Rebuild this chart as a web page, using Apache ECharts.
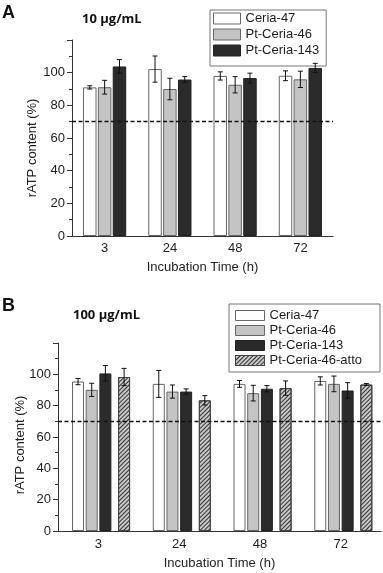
<!DOCTYPE html>
<html>
<head>
<meta charset="utf-8">
<title>rATP content</title>
<script src="https://cdn.jsdelivr.net/npm/echarts@6/dist/echarts.min.js"></script>
<style>
  html, body { margin: 0; padding: 0; background: #ffffff; }
  #chart { width: 383px; height: 573px; }
</style>
</head>
<body>
<div id="chart"></div>
<script>
// data
const times = ['3', '24', '48', '72'];
const threshold = 70;

// panel A, 10 ug/mL
const ceria47A = [91.0, 102.2, 98.0, 98.1];
const ceria47AErr = [1.0, 8.0, 2.5, 3.0];
const ptCeria46A = [91.1, 90.0, 92.6, 95.9];
const ptCeria46AErr = [4.2, 6.6, 5.0, 5.0];
const ptCeria143A = [103.8, 95.8, 96.7, 102.9];
const ptCeria143AErr = [4.2, 1.8, 3.0, 2.8];

// panel B, 100 ug/mL
const ceria47B = [95.4, 93.9, 93.9, 95.8];
const ceria47BErr = [2.0, 8.6, 2.2, 2.6];
const ptCeria46B = [90.1, 89.0, 88.0, 93.9];
const ptCeria46BErr = [4.2, 4.2, 5.0, 5.0];
const ptCeria143B = [100.6, 89.0, 90.8, 89.7];
const ptCeria143BErr = [5.0, 1.7, 2.0, 5.0];
const ptCeria46attoB = [98.3, 83.4, 91.2, 93.5];
const ptCeria46attoBErr = [5.5, 3.0, 4.6, 0.6];

const FONT = 'Liberation Sans';
const AX = '#333';
const TXT = '#1e1e1e';

const styles = {
    'Ceria-47': { color: '#ffffff', borderColor: '#666', borderWidth: 1 },
    'Pt-Ceria-46': { color: '#c4c4c4', borderColor: '#666', borderWidth: 1 },
    'Pt-Ceria-143': { color: '#2b2b2b', borderColor: '#222', borderWidth: 1 },
    'Pt-Ceria-46-atto': {
        color: '#c8c8c8', borderColor: '#444', borderWidth: 1,
        decal: { symbol: 'rect', symbolSize: 1, color: '#333', dashArrayX: [1, 0], dashArrayY: [1, 1.5], rotation: -Math.PI / 4 }
    }
};

// bar column layout (same rule ECharts uses), to place error bars
function centers(widths, gap) {
    let sum = 0;
    widths.forEach(w => { sum += w * (1 + gap); });
    sum -= widths[widths.length - 1] * gap;
    let off = -sum / 2;
    return widths.map(w => { const c = off + w / 2; off += w * (1 + gap); return c; });
}

const gapA = 0.1, widthsA = [13.5, 13.5, 13.5];
const gapB = 0.14, widthsB = [4.7, 12, 12, 12, 4.4, 12];
const cA = centers(widthsA, gapA);
const cB = centers(widthsB, gapB);

function bar(name, data, axis, width, gap) {
    return {
        name: name, type: 'bar', xAxisIndex: axis, yAxisIndex: axis,
        data: data, barWidth: width, barGap: (gap * 100) + '%',
        itemStyle: styles[name], emphasis: { disabled: true }
    };
}

function spacer(axis, width, gap) {
    return { name: '_sp' + axis + width, type: 'bar', xAxisIndex: axis, yAxisIndex: axis, data: [], barWidth: width, barGap: (gap * 100) + '%' };
}

function errors(vals, errs, axis, dx) {
    return {
        type: 'custom', xAxisIndex: axis, yAxisIndex: axis, z: 5, silent: true,
        data: vals.map((v, i) => [i, v, errs[i]]),
        renderItem: function (params, api) {
            const hi = api.coord([api.value(0), api.value(1) + api.value(2)]);
            const lo = api.coord([api.value(0), api.value(1) - api.value(2)]);
            const x = hi[0] + dx, cap = 2.5;
            const st = { stroke: '#111', lineWidth: 1 };
            return {
                type: 'group', children: [
                    { type: 'line', shape: { x1: x, y1: hi[1], x2: x, y2: lo[1] }, style: st },
                    { type: 'line', shape: { x1: x - cap, y1: hi[1], x2: x + cap, y2: hi[1] }, style: st },
                    { type: 'line', shape: { x1: x - cap, y1: lo[1], x2: x + cap, y2: lo[1] }, style: st }
                ]
            };
        }
    };
}

const dashLine = {
    silent: true, symbol: 'none', label: { show: false },
    lineStyle: { color: '#111', type: [4, 2.5], width: 1.3 },
    data: [{ yAxis: threshold }]
};

function xAxis(idx, labelMargin, nameGap) {
    return {
        type: 'category', gridIndex: idx, data: times,
        axisLine: { lineStyle: { color: AX } },
        axisTick: { length: 4, lineStyle: { color: AX } },
        axisLabel: { fontSize: 13, color: TXT, fontFamily: FONT, margin: labelMargin },
        name: 'Incubation Time (h)', nameLocation: 'middle', nameGap: nameGap, nameMoveOverlap: false,
        nameTextStyle: { fontSize: 13, color: TXT, fontFamily: FONT }
    };
}

function yAxis(idx, nameGap, shift) {
    return {
        type: 'value', gridIndex: idx, min: 0, max: 120, interval: 20,
        axisLine: { show: true, lineStyle: { color: AX } },
        axisTick: { show: true, length: 5, lineStyle: { color: AX } },
        minorTick: { show: true, splitNumber: 2, length: 3, lineStyle: { color: AX } },
        splitLine: { show: false },
        axisLabel: { fontSize: 13, color: TXT, fontFamily: FONT, margin: 7, showMaxLabel: false },
        name: 'rATP content (%)', nameLocation: 'middle', nameGap: nameGap, nameRotate: 90, nameMoveOverlap: false,
        nameTextStyle: { fontSize: 13, color: TXT, fontFamily: FONT, padding: [0, shift, 0, 0] }
    };
}

function legend(left, top, padding, w, h, gap, names) {
    return {
        orient: 'vertical', left: left, top: top, padding: padding,
        itemWidth: w, itemHeight: h, itemGap: gap, icon: 'rect',
        borderColor: '#777', borderWidth: 1, selectedMode: false,
        itemStyle: { borderWidth: 1 },
        textStyle: { fontSize: 13, color: TXT, fontFamily: FONT },
        data: names
    };
}

const namesA = ['Ceria-47', 'Pt-Ceria-46', 'Pt-Ceria-143'];
const namesB = ['Ceria-47', 'Pt-Ceria-46', 'Pt-Ceria-143', 'Pt-Ceria-46-atto'];

const chart = echarts.init(document.getElementById('chart'));
const series = [];

// panel A
const barsA = [ceria47A, ptCeria46A, ptCeria143A];
const errsA = [ceria47AErr, ptCeria46AErr, ptCeria143AErr];
namesA.forEach((n, i) => series.push(bar(n, barsA[i], 0, widthsA[i], gapA)));
series[0].markLine = dashLine;
namesA.forEach((n, i) => series.push(errors(barsA[i], errsA[i], 0, cA[i])));

// panel B
const barsB = [ceria47B, ptCeria46B, ptCeria143B, ptCeria46attoB];
const errsB = [ceria47BErr, ptCeria46BErr, ptCeria143BErr, ptCeria46attoBErr];
const slotB = [1, 2, 3, 5];
series.push(spacer(1, widthsB[0], gapB));
namesB.slice(0, 3).forEach((n, i) => series.push(bar(n, barsB[i], 1, widthsB[slotB[i]], gapB)));
series.push(spacer(1, widthsB[4], gapB));
series.push(bar(namesB[3], barsB[3], 1, widthsB[5], gapB));
series[series.length - 4].markLine = dashLine;
namesB.forEach((n, i) => series.push(errors(barsB[i], errsB[i], 1, cB[slotB[i]])));

chart.setOption({
    animation: false,
    backgroundColor: '#ffffff',
    title: [
        { text: 'A', left: 2, top: 4, padding: 0, textStyle: { fontSize: 18, fontWeight: 'bold', fontFamily: FONT, color: '#111' } },
        { text: '10 μg/mL', left: 82, top: 13, padding: 0, textStyle: { fontSize: 13, fontWeight: 'bold', fontFamily: 'Open Sans', color: '#111' } },
        { text: 'B', left: 2, top: 297, padding: 0, textStyle: { fontSize: 18, fontWeight: 'bold', fontFamily: FONT, color: '#111' } },
        { text: '100 μg/mL', left: 73, top: 309, padding: 0, textStyle: { fontSize: 13, fontWeight: 'bold', fontFamily: 'Open Sans', color: '#111' } }
    ],
    legend: [
        legend(210, 10, [2, 7, 9, 3], 27, 11, 3, namesA),
        legend(229, 304, [5, 18, 5, 6], 29, 10, 2, namesB)
    ],
    grid: [
        { left: 72, right: 50, top: 40, bottom: 337, outerBoundsMode: 'none' },
        { left: 58, right: 2, top: 343, bottom: 42, outerBoundsMode: 'none' }
    ],
    xAxis: [xAxis(0, 6, 25), xAxis(1, 7, 26)],
    yAxis: [yAxis(0, 33, 20), yAxis(1, 31, 16)],
    series: series
});
</script>
</body>
</html>
